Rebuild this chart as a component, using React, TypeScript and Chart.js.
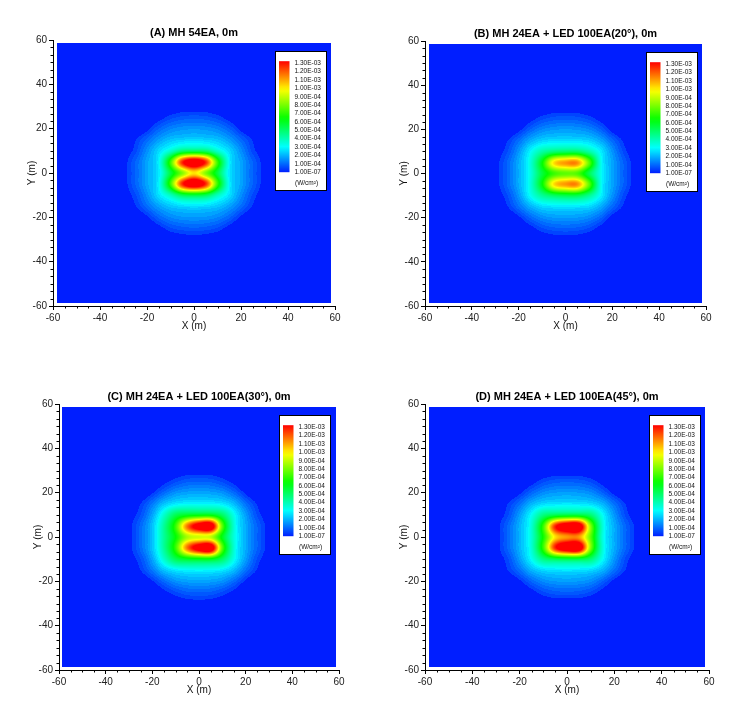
import React, { useEffect, useRef } from "react";
import { Chart, registerables } from "chart.js";

Chart.register(...registerables);

// ---------- data (irradiance in units of 1e-4 W/cm², grid every 5 m) ----------
const X_NODES = [-30, -25, -20, -15, -10, -5, 0, 5, 10, 15, 20, 25, 30];
const Y_NODES = [30, 25, 20, 15, 10, 5, 0, -5, -10, -15, -20, -25, -30];

const FIELD_A = [
  [0, 0, 0, 0, 0.1, 0.2, 0.2, 0.2, 0.1, 0, 0, 0, 0],
  [0, 0, 0, 0.3, 0.65, 0.85, 0.9, 0.85, 0.65, 0.3, 0, 0, 0],
  [0, 0, 0.35, 1.0, 1.45, 1.65, 1.7, 1.65, 1.45, 1.0, 0.35, 0, 0],
  [0, 0.45, 1.1, 1.8, 2.3, 2.5, 2.6, 2.5, 2.3, 1.8, 1.1, 0.45, 0],
  [0.2, 0.65, 1.6, 2.6, 3.6, 4.8, 5.0, 4.8, 3.6, 2.6, 1.6, 0.65, 0.2],
  [0.3, 1.0, 1.9, 3.0, 7.0, 12.5, 14.5, 12.5, 7.0, 3.0, 1.9, 1.0, 0.3],
  [0.3, 1.0, 1.9, 2.8, 5.5, 8.0, 10.0, 8.0, 5.5, 2.8, 1.9, 1.0, 0.3],
  [0.3, 1.0, 1.9, 3.0, 7.0, 12.5, 14.5, 12.5, 7.0, 3.0, 1.9, 1.0, 0.3],
  [0.2, 0.7, 1.6, 2.7, 3.8, 5.2, 5.5, 5.2, 3.8, 2.7, 1.6, 0.7, 0.2],
  [0, 0.45, 1.15, 1.85, 2.35, 2.6, 2.7, 2.6, 2.35, 1.85, 1.15, 0.45, 0],
  [0, 0, 0.4, 1.05, 1.5, 1.7, 1.75, 1.7, 1.5, 1.05, 0.4, 0, 0],
  [0, 0, 0, 0.3, 0.7, 0.88, 0.95, 0.88, 0.7, 0.3, 0, 0, 0],
  [0, 0, 0, 0, 0.1, 0.2, 0.25, 0.2, 0.1, 0, 0, 0, 0],
];

const FIELD_B = [
  [0, 0, 0, 0, 0.1, 0.2, 0.2, 0.2, 0.1, 0, 0, 0, 0],
  [0, 0, 0, 0.3, 0.65, 0.85, 0.9, 0.85, 0.65, 0.3, 0, 0, 0],
  [0, 0, 0.35, 1.0, 1.5, 1.7, 1.75, 1.7, 1.5, 1.0, 0.3, 0, 0],
  [0, 0.45, 1.15, 2.0, 2.5, 2.65, 2.7, 2.65, 2.5, 1.95, 1.1, 0.4, 0],
  [0.2, 0.7, 1.7, 3.0, 4.1, 4.7, 4.9, 4.9, 4.1, 2.9, 1.65, 0.65, 0.15],
  [0.3, 1.0, 2.0, 3.4, 6.2, 10.0, 11.0, 11.1, 7.6, 3.3, 1.9, 0.95, 0.25],
  [0.3, 1.0, 2.0, 3.3, 5.5, 7.0, 7.5, 7.3, 5.3, 3.2, 1.9, 0.95, 0.25],
  [0.3, 1.0, 2.0, 3.4, 6.2, 10.0, 11.0, 11.1, 7.6, 3.3, 1.9, 0.95, 0.25],
  [0.2, 0.7, 1.7, 3.1, 4.3, 5.0, 5.3, 5.3, 4.4, 3.0, 1.65, 0.65, 0.15],
  [0, 0.45, 1.2, 2.05, 2.6, 2.75, 2.8, 2.75, 2.6, 2.0, 1.1, 0.4, 0],
  [0, 0, 0.4, 1.05, 1.55, 1.75, 1.8, 1.75, 1.55, 1.05, 0.3, 0, 0],
  [0, 0, 0, 0.3, 0.7, 0.9, 0.95, 0.9, 0.7, 0.3, 0, 0, 0],
  [0, 0, 0, 0, 0.1, 0.22, 0.25, 0.22, 0.1, 0, 0, 0, 0],
];

const FIELD_C = [
  [0, 0, 0, 0, 0.15, 0.25, 0.25, 0.25, 0.15, 0, 0, 0, 0],
  [0, 0, 0, 0.35, 0.7, 0.95, 1.0, 0.95, 0.7, 0.35, 0, 0, 0],
  [0, 0, 0.45, 1.1, 1.65, 1.85, 1.9, 1.85, 1.65, 1.1, 0.4, 0, 0],
  [0, 0.5, 1.3, 2.3, 2.8, 3.0, 3.0, 3.0, 2.8, 2.2, 1.2, 0.45, 0],
  [0.25, 0.75, 1.9, 3.6, 5.2, 5.8, 6.0, 6.0, 5.0, 3.2, 1.8, 0.7, 0.2],
  [0.35, 1.1, 2.3, 4.3, 7.0, 11.5, 14.0, 14.5, 7.5, 3.5, 2.0, 1.0, 0.3],
  [0.35, 1.1, 2.3, 4.3, 6.3, 8.5, 9.0, 8.8, 6.0, 3.4, 2.0, 1.0, 0.3],
  [0.35, 1.1, 2.3, 4.3, 7.0, 11.5, 14.0, 14.5, 7.5, 3.5, 2.0, 1.0, 0.3],
  [0.25, 0.75, 1.9, 3.6, 5.2, 5.8, 6.0, 6.0, 5.0, 3.2, 1.8, 0.7, 0.2],
  [0, 0.5, 1.3, 2.3, 2.8, 3.0, 3.05, 3.0, 2.8, 2.2, 1.2, 0.45, 0],
  [0, 0, 0.45, 1.1, 1.65, 1.85, 1.9, 1.85, 1.65, 1.1, 0.4, 0, 0],
  [0, 0, 0, 0.35, 0.7, 0.95, 1.0, 0.95, 0.7, 0.35, 0, 0, 0],
  [0, 0, 0, 0, 0.15, 0.25, 0.3, 0.25, 0.15, 0, 0, 0, 0],
];

const FIELD_D = [
  [0, 0, 0, 0, 0.1, 0.2, 0.2, 0.2, 0.1, 0, 0, 0, 0],
  [0, 0, 0, 0.3, 0.7, 0.9, 0.95, 0.9, 0.7, 0.3, 0, 0, 0],
  [0, 0, 0.4, 1.05, 1.55, 1.75, 1.8, 1.75, 1.55, 1.0, 0.35, 0, 0],
  [0, 0.5, 1.2, 2.1, 2.6, 2.75, 2.8, 2.75, 2.6, 2.1, 1.2, 0.45, 0],
  [0.2, 0.7, 1.8, 3.1, 4.6, 5.2, 5.4, 5.4, 4.8, 3.1, 1.7, 0.65, 0.15],
  [0.3, 1.05, 2.1, 3.5, 7.0, 12.5, 14.5, 14.5, 8.0, 3.5, 2.0, 1.0, 0.3],
  [0.3, 1.05, 2.1, 3.5, 6.5, 10.0, 11.0, 11.0, 7.5, 3.4, 2.0, 1.0, 0.3],
  [0.3, 1.05, 2.1, 3.5, 7.0, 12.5, 14.5, 14.5, 8.0, 3.5, 2.0, 1.0, 0.3],
  [0.2, 0.7, 1.8, 3.1, 4.6, 5.2, 5.4, 5.4, 4.8, 3.1, 1.7, 0.65, 0.15],
  [0, 0.5, 1.2, 2.1, 2.6, 2.75, 2.8, 2.75, 2.6, 2.1, 1.2, 0.45, 0],
  [0, 0, 0.4, 1.05, 1.55, 1.75, 1.8, 1.75, 1.55, 1.0, 0.35, 0, 0],
  [0, 0, 0, 0.3, 0.7, 0.9, 0.95, 0.9, 0.7, 0.3, 0, 0, 0],
  [0, 0, 0, 0, 0.1, 0.2, 0.2, 0.2, 0.1, 0, 0, 0, 0],
];

const PANEL_TITLES = [
  "(A) MH 54EA, 0m",
  "(B) MH 24EA + LED 100EA(20\u00B0), 0m",
  "(C) MH 24EA + LED 100EA(30\u00B0), 0m",
  "(D) MH 24EA + LED 100EA(45\u00B0), 0m",
];

const LEVEL_LABELS = [
  "1.30E-03", "1.20E-03", "1.10E-03", "1.00E-03", "9.00E-04", "8.00E-04", "7.00E-04",
  "6.00E-04", "5.00E-04", "4.00E-04", "3.00E-04", "2.00E-04", "1.00E-04", "1.00E-07",
];
const UNIT_LABEL = "(W/cm\u00B2)";
const AXIS_MIN = -60;
const AXIS_MAX = 60;
const AXIS_STEP = 20;
const DATA_EXTENT = 58.5;
const LEVEL_MAX = 13; // 1.3E-03 in 1e-4 units
const LEVEL_STEP = 0.25;
const BAND_START = 0.5;
const BAND_LIMIT = 3; // banded flood below 3E-04

// ---------- styling / layout ----------
const FONT = "'Liberation Sans', Arial, sans-serif";
const HUE0 = 233;
const Y_AXIS_W = 40;
const X_AXIS_H = 30;
const TITLE_H = 11 * 1.2;

const PANELS = [
  { field: FIELD_A, title: PANEL_TITLES[0], cl: 0, ct: 0, w: 372, h: 354, area: { l: 53, r: 335, t: 40, b: 306 } },
  { field: FIELD_B, title: PANEL_TITLES[1], cl: 372, ct: 0, w: 372, h: 354, area: { l: 425, r: 706, t: 41, b: 306 } },
  { field: FIELD_C, title: PANEL_TITLES[2], cl: 0, ct: 354, w: 372, h: 355, area: { l: 59, r: 339, t: 404, b: 670 } },
  { field: FIELD_D, title: PANEL_TITLES[3], cl: 372, ct: 354, w: 372, h: 355, area: { l: 425, r: 709, t: 404, b: 670 } },
];

function hueRGB(h: number): [number, number, number] {
  const hp = h / 60;
  const x = Math.round(255 * (1 - Math.abs((hp % 2) - 1)));
  if (hp < 1) return [255, x, 0];
  if (hp < 2) return [x, 255, 0];
  if (hp < 3) return [0, 255, x];
  if (hp < 4) return [0, x, 255];
  return [x, 0, 255];
}

function colorFor(v: number): [number, number, number] {
  let vq = v;
  if (v < BAND_START) vq = 0;
  else if (v < BAND_LIMIT) vq = Math.floor(v / LEVEL_STEP) * LEVEL_STEP;
  const t = Math.max(0, Math.min(1, vq / LEVEL_MAX));
  return hueRGB(HUE0 * (1 - t));
}

function cr(p0: number, p1: number, p2: number, p3: number, s: number) {
  return 0.5 * (2 * p1 + (-p0 + p2) * s + (2 * p0 - 5 * p1 + 4 * p2 - p3) * s * s + (-p0 + 3 * p1 - 3 * p2 + p3) * s * s * s);
}

function sampleField(field: number[][], x: number, y: number) {
  const dx = X_NODES[1] - X_NODES[0];
  const dy = Y_NODES[0] - Y_NODES[1];
  const gx = (x - X_NODES[0]) / dx;
  const gy = (Y_NODES[0] - y) / dy;
  const c = Math.floor(gx), r = Math.floor(gy);
  const sx = gx - c, sy = gy - r;
  const nr = field.length, nc = field[0].length;
  const val = (rr: number, cc: number) => (rr >= 0 && rr < nr && cc >= 0 && cc < nc ? field[rr][cc] : 0);
  const rows: number[] = [];
  for (let k = -1; k <= 2; k++) {
    rows.push(cr(val(r + k, c - 1), val(r + k, c), val(r + k, c + 1), val(r + k, c + 2), sx));
  }
  return Math.max(0, cr(rows[0], rows[1], rows[2], rows[3], sy));
}

const heatmapPlugin = {
  id: "heatmap",
  beforeDatasetsDraw(chart: any, _args: any, opts: any) {
    const field = opts.field as number[][];
    if (!field) return;
    const { ctx, chartArea: a, scales } = chart;
    const xs = scales.x, ys = scales.y;
    const x0 = Math.floor(a.left), y0 = Math.floor(a.top);
    const w = Math.ceil(a.right) - x0, h = Math.ceil(a.bottom) - y0;
    const off = document.createElement("canvas");
    off.width = w;
    off.height = h;
    const octx = off.getContext("2d")!;
    const img = octx.createImageData(w, h);
    for (let j = 0; j < h; j++) {
      const vy = ys.getValueForPixel(y0 + j + 0.5);
      if (Math.abs(vy) > DATA_EXTENT) continue;
      for (let i = 0; i < w; i++) {
        const vx = xs.getValueForPixel(x0 + i + 0.5);
        if (Math.abs(vx) > DATA_EXTENT) continue;
        const [r, g, b] = colorFor(sampleField(field, vx, vy));
        const k = (j * w + i) * 4;
        img.data[k] = r;
        img.data[k + 1] = g;
        img.data[k + 2] = b;
        img.data[k + 3] = 255;
      }
    }
    octx.putImageData(img, 0, 0);
    ctx.drawImage(off, x0, y0);
  },
};

const colorbarPlugin = {
  id: "colorbarBox",
  afterDatasetsDraw(chart: any) {
    const { ctx, chartArea: a } = chart;
    const bw = 51, bh = 139;
    const bx = Math.round(a.right - 9 - bw) + 0.5;
    const by = Math.round(a.top + 11) + 0.5;
    ctx.save();
    ctx.fillStyle = "#ffffff";
    ctx.fillRect(bx, by, bw, bh);
    ctx.strokeStyle = "#000";
    ctx.lineWidth = 1;
    ctx.strokeRect(bx, by, bw, bh);
    const barX = bx + 3.5, barTop = by + 9.7, barBot = by + 120.7, barW = 10.5;
    const grad = ctx.createLinearGradient(0, barTop, 0, barBot);
    const n = 26;
    for (let i = 0; i <= n; i++) {
      const t = i / n;
      const [r, g, b] = hueRGB(HUE0 * t);
      grad.addColorStop(t, `rgb(${r},${g},${b})`);
    }
    ctx.fillStyle = grad;
    ctx.fillRect(barX, barTop, barW, barBot - barTop);
    ctx.fillStyle = "#111";
    ctx.font = `6.5px ${FONT}`;
    ctx.textAlign = "left";
    ctx.textBaseline = "middle";
    const step = (barBot - barTop - 2) / (LEVEL_LABELS.length - 1);
    LEVEL_LABELS.forEach((lab, i) => {
      ctx.fillText(lab, bx + 19, barTop + 2 + i * step);
    });
    ctx.fillText(UNIT_LABEL, bx + 19.5, by + 132);
    ctx.restore();
  },
};

const minorTickPlugin = {
  id: "minorTicks",
  afterDraw(chart: any) {
    const { ctx, chartArea: a, scales } = chart;
    ctx.save();
    ctx.strokeStyle = "#000";
    ctx.lineWidth = 1;
    ctx.beginPath();
    for (let v = AXIS_MIN; v <= AXIS_MAX + 1e-6; v += 5) {
      if (Math.abs(v % AXIS_STEP) < 1e-6) continue;
      const px = Math.round(scales.x.getPixelForValue(v)) + 0.5;
      ctx.moveTo(px, a.bottom);
      ctx.lineTo(px, a.bottom + 2.5);
    }
    for (let k = 0; k <= 36; k++) {
      if (k % 6 === 0) continue;
      const v = AXIS_MIN + (k * AXIS_STEP) / 6;
      const py = Math.round(scales.y.getPixelForValue(v)) + 0.5;
      ctx.moveTo(a.left, py);
      ctx.lineTo(a.left - 2.5, py);
    }
    ctx.stroke();
    ctx.restore();
  },
};

function Panel(props: { p: (typeof PANELS)[number] }) {
  const { p } = props;
  const ref = useRef<HTMLCanvasElement | null>(null);
  useEffect(() => {
    if (!ref.current) return;
    const pad = {
      left: p.area.l - p.cl - Y_AXIS_W,
      right: p.cl + p.w - p.area.r,
      top: p.area.t - p.ct - TITLE_H,
      bottom: p.ct + p.h - p.area.b - X_AXIS_H,
    };
    const tickFont = { family: FONT, size: 10 };
    const chart = new Chart(ref.current, {
      type: "scatter",
      data: { datasets: [{ data: [], pointRadius: 0 }] },
      plugins: [heatmapPlugin, colorbarPlugin, minorTickPlugin],
      options: {
        responsive: false,
        animation: false,
        devicePixelRatio: 1,
        layout: { padding: pad },
        plugins: {
          legend: { display: false },
          tooltip: { enabled: false },
          title: {
            display: true,
            text: p.title,
            fullSize: false,
            color: "#000",
            font: { family: FONT, size: 11, weight: "bold", lineHeight: 1.2 },
            padding: 0,
          },
          heatmap: { field: p.field },
        } as any,
        scales: {
          x: {
            type: "linear",
            position: "bottom",
            min: AXIS_MIN,
            max: AXIS_MAX,
            ticks: { stepSize: AXIS_STEP, autoSkip: false, maxRotation: 0, padding: 2, color: "#222", font: tickFont },
            grid: { drawOnChartArea: false, drawTicks: true, tickLength: 4, color: "#000" },
            border: { display: true, color: "#000", width: 1 },
            title: { display: true, text: "X (m)", color: "#111", font: tickFont, padding: { top: 0, bottom: 4 } },
            afterFit: (s: any) => {
              s.height = X_AXIS_H;
            },
          },
          y: {
            type: "linear",
            position: "left",
            min: AXIS_MIN,
            max: AXIS_MAX,
            ticks: { stepSize: AXIS_STEP, autoSkip: false, padding: 2, color: "#222", font: tickFont },
            grid: { drawOnChartArea: false, drawTicks: true, tickLength: 4, color: "#000" },
            border: { display: true, color: "#000", width: 1 },
            title: { display: true, text: "Y (m)", color: "#111", font: tickFont, padding: { top: 13, bottom: 0 } },
            afterFit: (s: any) => {
              s.width = Y_AXIS_W;
            },
          },
        } as any,
      },
    } as any);
    return () => chart.destroy();
  }, []);
  return (
    <canvas
      ref={ref}
      width={p.w}
      height={p.h}
      style={{ position: "absolute", left: p.cl, top: p.ct, width: p.w, height: p.h }}
    />
  );
}

export default function App() {
  return (
    <div style={{ position: "absolute", left: 0, top: 0, width: 744, height: 709, background: "#fff" }}>
      {PANELS.map((p, i) => (
        <Panel key={i} p={p} />
      ))}
    </div>
  );
}
